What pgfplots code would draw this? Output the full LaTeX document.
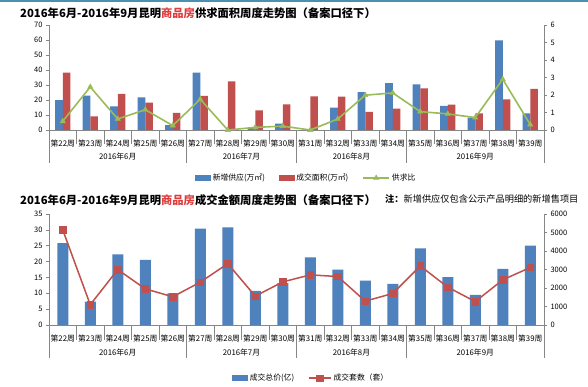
\documentclass[border=0pt]{standalone}
\usepackage{pgfplots}
\pgfplotsset{compat=1.18}
\usepackage{fontspec}
\setmainfont{Noto Sans CJK SC}
\definecolor{cblue}{HTML}{4F81BD}
\definecolor{cred}{HTML}{C0504D}
\definecolor{cgreen}{HTML}{9BBB59}
\definecolor{cgray}{HTML}{868686}
\definecolor{ctitle}{HTML}{E03C3C}
\definecolor{cteal}{HTML}{4A90B0}
\pgfplotsset{
  base/.style={
    width=495pt, scale only axis, xmin=0.5, xmax=18.5,
    axis line style={cgray, line width=0.6pt},
    tick style={cgray, line width=0.6pt},
    major tick length=3pt, tick align=outside,
    tick label style={font=\fontsize{7.5}{8}\selectfont},
    /pgf/number format/assume math mode=true,
    /pgf/number format/1000 sep={},
    clip=false,
  },
  cats/.style={
    xtick={1,...,18},
    xticklabels={第22周,第23周,第24周,第25周,第26周,第27周,第28周,第29周,第30周,第31周,第32周,第33周,第34周,第35周,第36周,第37周,第38周,第39周},
    xticklabel style={anchor=center, yshift=-#1, font=\fontsize{7.8}{8}\selectfont},
    x tick style={draw=none},
  },
  linelegA/.style={legend image code/.code={\draw[##1, mark repeat=2, mark phase=2] plot coordinates {(0pt,0pt)(13pt,0pt)(26pt,0pt)};}},
  linelegB/.style={legend image code/.code={\draw[##1, mark repeat=2, mark phase=2] plot coordinates {(0pt,0pt)(11pt,0pt)(22pt,0pt)};}},
  barleg/.style={legend image code/.code={\fill[#1] (0pt,-2.5pt) rectangle (15pt,2.5pt);}},
}
\begin{document}
\begin{tikzpicture}
\useasboundingbox (0,0) rectangle (588pt,386pt);
\fill[white] (0,0) rectangle (588pt,386pt);
\draw[cteal, line width=1.5pt] (0,385.2pt) -- (588pt,385.2pt);
% titles
\node[anchor=west, font=\fontsize{11.3}{12}\selectfont\bfseries, inner sep=0] at (20pt,373pt) {2016年6月-2016年9月昆明{\color{ctitle}商品房}供求面积周度走势图（备案口径下）};
\node[anchor=west, font=\fontsize{11.3}{12}\selectfont\bfseries, inner sep=0] at (20pt,186pt) {2016年6月-2016年9月昆明{\color{ctitle}商品房}成交金额周度走势图（备案口径下）};
\node[anchor=west, font=\fontsize{9.2}{10}\selectfont, inner sep=0] at (385pt,187pt) {{\bfseries 注：}新增供应仅包含公示产品明细的新增售项目};

% ---------- top chart, left axis ----------
\begin{axis}[base, cats=11pt, at={(49pt,256pt)}, anchor=south west, height=105pt,
  ymin=0, ymax=70, ytick={0,10,...,70},
  axis x line*=bottom, axis y line*=left,
  ybar=0pt, bar width=7.7pt]
\addplot[fill=cblue, draw=none] coordinates {(1,20.0)(2,22.9)(3,15.8)(4,21.8)(5,3.3)(6,38.3)(7,0)(8,1.5)(9,4.2)(10,0)(11,14.9)(12,25.2)(13,31.2)(14,30.5)(15,16.0)(16,8.2)(17,59.7)(18,11.1)};
\addplot[fill=cred, draw=none] coordinates {(1,38.3)(2,9.1)(3,24.1)(4,18.3)(5,11.4)(6,22.7)(7,32.5)(8,13.1)(9,17.1)(10,22.5)(11,22.3)(12,12.0)(13,14.3)(14,27.8)(15,16.9)(16,11.1)(17,20.5)(18,27.4)};
\pgfplotsinvokeforeach{1.5,2.5,3.5,4.5,6.5,7.5,8.5,10.5,11.5,12.5,14.5,15.5,16.5,17.5}{
  \draw[cgray, line width=0.6pt] (axis cs:#1,0) -- ([yshift=-14pt]axis cs:#1,0);
}
\pgfplotsinvokeforeach{0.5,5.5,9.5,13.5,18.5}{
  \draw[cgray, line width=0.6pt] (axis cs:#1,0) -- ([yshift=-33pt]axis cs:#1,0);
}
\node[font=\fontsize{7.8}{8}\selectfont] at ([yshift=-27pt]axis cs:3,0) {2016年6月};
\node[font=\fontsize{7.8}{8}\selectfont] at ([yshift=-27pt]axis cs:7.5,0) {2016年7月};
\node[font=\fontsize{7.8}{8}\selectfont] at ([yshift=-27pt]axis cs:11.5,0) {2016年8月};
\node[font=\fontsize{7.8}{8}\selectfont] at ([yshift=-27pt]axis cs:16,0) {2016年9月};
\end{axis}
% ---------- top chart, right axis ----------
\begin{axis}[base, at={(49pt,256pt)}, anchor=south west, height=105pt,
  ymin=0, ymax=6, ytick={0,1,...,6},
  axis x line=none, axis y line*=right,
  legend style={at={(0.52,-0.457)}, anchor=center, draw=none, fill=none,
    legend columns=3, font=\fontsize{7.8}{8}\selectfont,
    /tikz/every even column/.append style={column sep=12pt}},
  legend cell align=left]
\addlegendimage{barleg=cblue}
\addlegendentry{新增供应(万㎡)}
\addlegendimage{barleg=cred}
\addlegendentry{成交面积(万㎡)}
\addplot[cgreen, line width=1.6pt, mark=triangle*, mark size=3pt, mark options={fill=cgreen, draw=cgreen, line width=0.5pt}, linelegA]
 coordinates {(1,0.50)(2,2.46)(3,0.63)(4,1.16)(5,0.25)(6,1.76)(7,0.0)(8,0.15)(9,0.22)(10,0.0)(11,0.63)(12,1.99)(13,2.12)(14,1.05)(15,0.92)(16,0.71)(17,2.90)(18,0.31)};
\addlegendentry{供求比}
\end{axis}

% ---------- bottom chart, left axis ----------
\begin{axis}[base, cats=11pt, at={(49pt,61pt)}, anchor=south west, height=111pt,
  ymin=0, ymax=35, ytick={0,5,...,35},
  axis x line*=bottom, axis y line*=left,
  ybar, bar width=11pt]
\addplot[fill=cblue, draw=none] coordinates {(1,25.8)(2,7.4)(3,22.3)(4,20.5)(5,10.0)(6,30.4)(7,30.8)(8,10.8)(9,13.2)(10,21.3)(11,17.5)(12,14.0)(13,13.0)(14,24.2)(15,15.1)(16,9.5)(17,17.7)(18,25.0)};
\pgfplotsinvokeforeach{1.5,2.5,3.5,4.5,6.5,7.5,8.5,10.5,11.5,12.5,14.5,15.5,16.5,17.5}{
  \draw[cgray, line width=0.6pt] (axis cs:#1,0) -- ([yshift=-15pt]axis cs:#1,0);
}
\pgfplotsinvokeforeach{0.5,5.5,9.5,13.5,18.5}{
  \draw[cgray, line width=0.6pt] (axis cs:#1,0) -- ([yshift=-33pt]axis cs:#1,0);
}
\node[font=\fontsize{7.8}{8}\selectfont] at ([yshift=-28pt]axis cs:3,0) {2016年6月};
\node[font=\fontsize{7.8}{8}\selectfont] at ([yshift=-28pt]axis cs:7.5,0) {2016年7月};
\node[font=\fontsize{7.8}{8}\selectfont] at ([yshift=-28pt]axis cs:11.5,0) {2016年8月};
\node[font=\fontsize{7.8}{8}\selectfont] at ([yshift=-28pt]axis cs:16,0) {2016年9月};
\end{axis}
% ---------- bottom chart, right axis ----------
\begin{axis}[base, at={(49pt,61pt)}, anchor=south west, height=111pt,
  ymin=0, ymax=6000, ytick={0,1000,...,6000},
  scaled y ticks=false,
  axis x line=none, axis y line*=right,
  legend style={at={(0.53,-0.477)}, anchor=center, draw=none, fill=none,
    legend columns=2, font=\fontsize{7.8}{8}\selectfont,
    /tikz/every even column/.append style={column sep=12pt}},
  legend cell align=left]
\addlegendimage{barleg=cblue}
\addlegendentry{成交总价(亿)}
\addplot[cred, line width=1.5pt, mark=square*, mark size=3.2pt, mark options={fill=cred, draw=cred, line width=0.5pt}, linelegB]
 coordinates {(1,5143)(2,1097)(3,2994)(4,1954)(5,1526)(6,2314)(7,3317)(8,1560)(9,2330)(10,2709)(11,2620)(12,1290)(13,1705)(14,3193)(15,2045)(16,1266)(17,2441)(18,3110)};
\addlegendentry{成交套数（套）}
\end{axis}
\end{tikzpicture}
\end{document}
